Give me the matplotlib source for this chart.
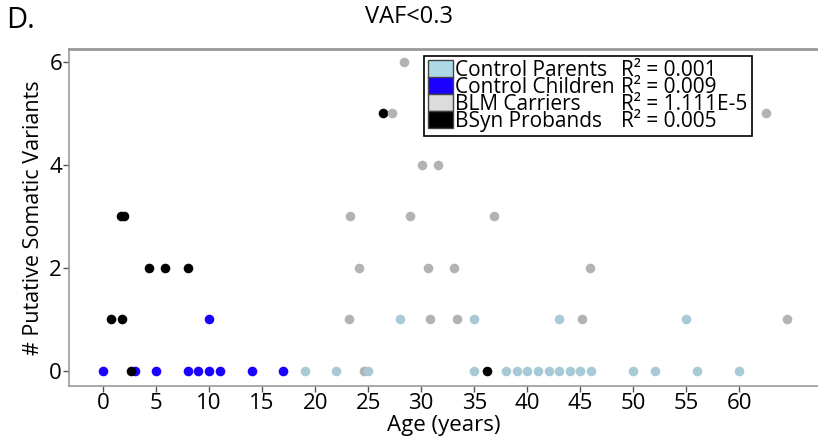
import matplotlib
matplotlib.use('Agg')
import matplotlib.pyplot as plt
from matplotlib.patches import Patch

plt.rcParams['font.family'] = ['Open Sans', 'DejaVu Sans']

# Control parents
parent_age = [19, 22, 25, 35, 38, 39, 40, 41, 42, 43, 44, 45, 46, 50, 52, 56, 60,
              28, 35, 43, 55]
parent_var = [0, 0, 0, 0, 0, 0, 0, 0, 0, 0, 0, 0, 0, 0, 0, 0, 0,
              1, 1, 1, 1]

# Control children
child_age = [0, 3, 5, 8, 9, 10, 11, 14, 17, 10]
child_var = [0, 0, 0, 0, 0, 0, 0, 0, 0, 1]

# BLM carriers
blm_age = [24.6, 23.2, 30.8, 33.4, 45.2, 64.5, 24.1, 30.6, 33.1, 45.9,
           23.3, 28.9, 36.9, 30.1, 31.6, 27.2, 62.5, 28.4]
blm_var = [0, 1, 1, 1, 1, 1, 2, 2, 2, 2,
           3, 3, 3, 4, 4, 5, 5, 6]

# BSyn probands
bsyn_age = [2.6, 36.2, 0.8, 1.8, 4.3, 5.8, 8.0, 1.7, 2.0, 26.4]
bsyn_var = [0, 0, 1, 1, 2, 2, 2, 3, 3, 5]

groups = ['Control Parents', 'Control Children', 'BLM Carriers', 'BSyn Probands']
r2_labels = ['R² = 0.001', 'R² = 0.009', 'R² = 1.111E-5', 'R² = 0.005']
swatch_colors = ['#add8e6', '#1a00ff', '#dcdcdc', '#000000']

xticks = list(range(0, 61, 5))
yticks = [0, 2, 4, 6]

fig = plt.figure(figsize=(8.18, 4.37), dpi=100)
ax = fig.add_axes([0.0844, 0.117, 0.9156, 0.771])

s = 48
ax.scatter(child_age, child_var, s=s, color='#1a00ff', linewidths=0, zorder=3)
ax.scatter(bsyn_age, bsyn_var, s=s, color='#000000', linewidths=0, zorder=3)
ax.scatter(blm_age, blm_var, s=s, color='#b3b3b3', linewidths=0, zorder=3)
ax.scatter(parent_age, parent_var, s=s, color='#a7cad6', linewidths=0, zorder=4)

ax.set_xlim(-3.2, 67.4)
ax.set_ylim(-0.29, 6.25)
ax.set_xticks(xticks)
ax.set_yticks(yticks)
ax.tick_params(labelsize=16, length=4, width=1, color='#555555', pad=1)

for side in ['left', 'bottom']:
    ax.spines[side].set_color('#999999')
    ax.spines[side].set_linewidth(1.2)
ax.spines['top'].set_color('#999999')
ax.spines['top'].set_linewidth(2)
ax.spines['right'].set_visible(False)

ax.set_xlabel('Age (years)', fontsize=16, labelpad=1)
ax.set_ylabel('# Putative Somatic Variants', fontsize=15.5, labelpad=4)

fig.text(0.5, 0.962, 'VAF<0.3', fontsize=17, ha='center', va='center')
fig.text(0.008, 0.952, 'D.', fontsize=21, ha='left', va='center')

handles = [Patch(facecolor=c, edgecolor='#444444', linewidth=1) for c in swatch_colors]
handles += [Patch(facecolor='none', edgecolor='none') for _ in r2_labels]
leg = ax.legend(handles, groups + r2_labels, ncol=2, loc='upper left',
                bbox_to_anchor=(0.474, 0.979), borderaxespad=0,
                fontsize=15, labelspacing=-0.2, handlelength=1.2, handleheight=0.9,
                handletextpad=0.1, columnspacing=-1.0, borderpad=0.2,
                fancybox=False, framealpha=1, edgecolor='black')
leg.get_frame().set_linewidth(1.2)

fig.savefig('out.png', dpi=100)
